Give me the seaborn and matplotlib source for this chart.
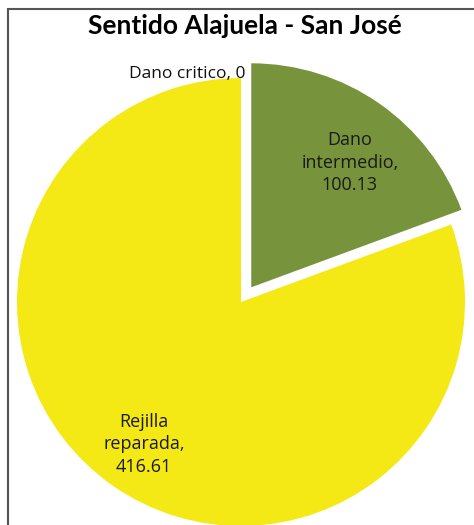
import numpy as np
import matplotlib
matplotlib.use("Agg")
import matplotlib.pyplot as plt
import seaborn as sns
from matplotlib.patches import Rectangle

# ---- data ----
categories = ["Dano critico", "Dano intermedio", "Rejilla reparada"]
values = [0, 100.13, 416.61]
colors = ["#C0504D", "#77933C", "#F4E915"]
explode = [0.0, 0.08, 0.0]
title = "Sentido Alajuela - San José"

sns.set_theme(style="white")
plt.rcParams['font.family'] = ['Open Sans', 'DejaVu Sans']

W, H = 474, 525
fig = plt.figure(figsize=(W / 100, H / 100), dpi=100)
fig.patch.set_facecolor("white")

# pie centre (241, 302) px from top-left, radius 224 px
cx, cy, r = 241, 302, 224
ax = fig.add_axes([(cx - r) / W, (H - cy - r) / H, 2 * r / W, 2 * r / H])

wedges, _ = ax.pie(values, colors=colors, explode=explode, startangle=90,
                   counterclock=False, radius=1.0,
                   wedgeprops=dict(linewidth=0, edgecolor="none"))
for w in wedges:
    w.set_clip_on(False)
ax.set_xlim(-1, 1)
ax.set_ylim(-1, 1)
ax.set_aspect("auto")
ax.axis("off")

# labels
for w, cat, val in zip(wedges, categories, values):
    mid = np.deg2rad((w.theta1 + w.theta2) / 2)
    c = w.center
    if val == 0:
        ax.text(c[0] + 0.02, c[1] + 1.02, f"{cat}, {val:g}", ha="right", va="center",
                fontsize=12.5, color="#111111", clip_on=False)
    else:
        small = w.theta2 - w.theta1 < 180
        d = 0.71 if small else 0.77
        a = mid - (0.06 if small else -0.01)
        txt = cat.replace(" ", "\n", 1) + ",\n" + f"{val:g}"
        ax.text(c[0] + d * np.cos(a), c[1] + d * np.sin(a), txt,
                ha="center", va="center", fontsize=13, linespacing=1.32,
                color="#1a1a1a", clip_on=False)

fig.text(245 / W, 1 - 26 / H, title, ha="center", va="center",
         fontsize=19, fontweight="bold", color="#000000",
         family=["Lato", "DejaVu Sans"])

# chart frame (left and top edges visible)
fig.patches.append(Rectangle((8 / W, -0.05), 1.2, (H - 9) / H + 0.05,
                             transform=fig.transFigure, fill=False,
                             edgecolor="#555555", linewidth=1.5))

fig.savefig("out.png", dpi=100, facecolor="white")
